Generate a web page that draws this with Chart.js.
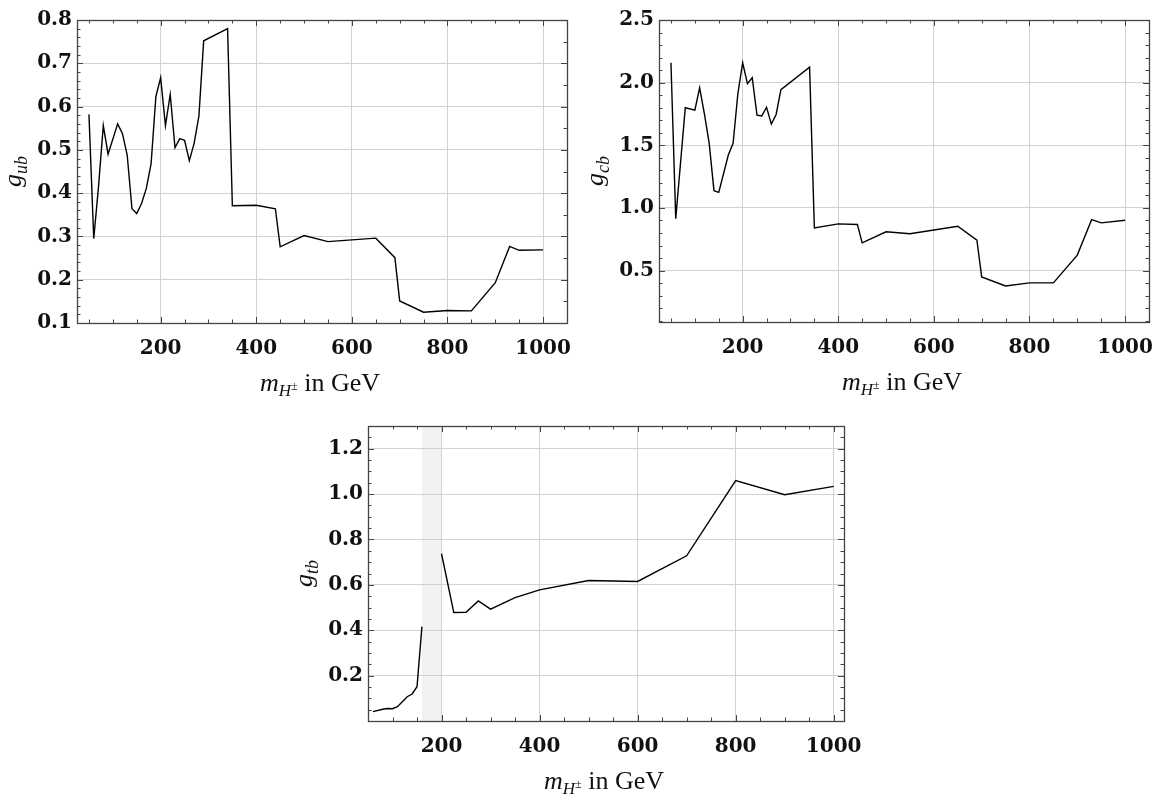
<!DOCTYPE html>
<html>
<head>
<meta charset="utf-8">
<script src="https://cdn.jsdelivr.net/npm/chart.js@4"></script>
<style>
  body { margin: 0; background: #fff; width: 1155px; height: 794px; position: relative; overflow: hidden; }
  canvas { position: absolute; }
</style>
</head>
<body>
<canvas id="ub" width="580" height="400" style="left:0px;top:0px"></canvas>
<canvas id="cb" width="575" height="400" style="left:580px;top:0px"></canvas>
<canvas id="tb" width="580" height="394" style="left:290px;top:400px"></canvas>
<script>
// charged Higgs mass (GeV) and couplings
let ubMass = [50, 60, 70, 80, 90, 110, 120, 130, 140, 150, 160, 170, 180, 190, 200, 210, 220, 230, 240, 250, 260, 270, 280, 290, 340, 350, 400, 440, 450, 500, 550, 650, 690, 700, 750, 800, 850, 900, 930, 950, 1000];
let ubVal = [0.582, 0.295, 0.415, 0.556, 0.49, 0.56, 0.538, 0.488, 0.364, 0.353, 0.376, 0.411, 0.468, 0.623, 0.667, 0.556, 0.628, 0.505, 0.526, 0.522, 0.475, 0.515, 0.578, 0.752, 0.78, 0.371, 0.372, 0.364, 0.276, 0.302, 0.288, 0.296, 0.251, 0.151, 0.125, 0.129, 0.128, 0.193, 0.277, 0.268, 0.269];

let cbMass = [50, 60, 80, 100, 110, 120, 130, 140, 150, 170, 180, 190, 200, 210, 220, 230, 240, 250, 260, 270, 280, 340, 350, 400, 440, 450, 500, 550, 650, 690, 700, 750, 800, 850, 900, 930, 950, 1000];
let cbVal = [2.159, 0.915, 1.8, 1.78, 1.958, 1.75, 1.516, 1.138, 1.124, 1.423, 1.516, 1.913, 2.159, 1.992, 2.04, 1.741, 1.735, 1.804, 1.669, 1.746, 1.944, 2.124, 0.841, 0.873, 0.868, 0.722, 0.81, 0.794, 0.854, 0.743, 0.45, 0.378, 0.402, 0.402, 0.624, 0.907, 0.881, 0.902];

// g_tb has a gap between 160 and 200 GeV (grey band)
let tbMassLow = [60, 80, 90, 100, 110, 120, 130, 140, 150, 160];
let tbLow = [0.041, 0.052, 0.055, 0.054, 0.063, 0.085, 0.107, 0.119, 0.151, 0.416];
let tbMassHigh = [200, 225, 250, 275, 300, 350, 400, 500, 600, 700, 800, 900, 1000];
let tbHigh = [0.737, 0.478, 0.479, 0.529, 0.493, 0.544, 0.578, 0.619, 0.615, 0.728, 1.059, 0.997, 1.034];
let tbBand = [160, 200];

let massTicks = [200, 400, 600, 800, 1000];
let ubTicks = [0.1, 0.2, 0.3, 0.4, 0.5, 0.6, 0.7, 0.8];
let cbTicks = [0.5, 1.0, 1.5, 2.0, 2.5];
let tbTicks = [0.2, 0.4, 0.6, 0.8, 1.0, 1.2];

const SERIF = '"Liberation Serif", "Times New Roman", serif';
const tickFont = { family: '"DejaVu Serif", serif', size: 20, weight: "bold" };
const gridColor = "#d2d2d2";

const massTitle = [
  { t: "m", it: true, size: 26 },
  { t: "H", it: true, size: 17, dy: 5 },
  { t: "±", size: 12, dy: -1 },
  { t: " in GeV", size: 26 },
];

function fontOf(s) {
  return (s.it ? "italic " : "") + s.size + "px " + SERIF;
}

function drawRich(ctx, segs, cx, cy, rotate) {
  ctx.save();
  ctx.translate(cx, cy);
  if (rotate) ctx.rotate(-Math.PI / 2);
  let w = 0;
  segs.forEach((s) => { ctx.font = fontOf(s); w += ctx.measureText(s.t).width; });
  let x = -w / 2;
  ctx.fillStyle = "#111";
  ctx.textBaseline = "alphabetic";
  segs.forEach((s) => {
    ctx.font = fontOf(s);
    ctx.fillText(s.t, x, s.dy || 0);
    x += ctx.measureText(s.t).width;
  });
  ctx.restore();
}

function steps(min, max, step) {
  let out = [];
  for (let i = Math.ceil(min / step - 1e-9); i * step <= max + 1e-9; i++) out.push(i * step);
  return out;
}

const isMajor = (list, v) => list.some((m) => Math.abs(m - v) < 1e-6);

// frame, inward tick marks, shaded band and the two axis titles
const frame = {
  id: "frame",
  beforeDraw(chart, args, o) {
    if (!o.band) return;
    const { ctx, chartArea: a, scales: { x } } = chart;
    const x0 = x.getPixelForValue(o.band[0]);
    const x1 = x.getPixelForValue(o.band[1]);
    ctx.save();
    ctx.fillStyle = "#f2f2f2";
    ctx.fillRect(x0, a.top, x1 - x0, a.bottom - a.top);
    ctx.restore();
  },
  afterDraw(chart, args, o) {
    const { ctx, chartArea: a, scales: { x, y } } = chart;
    ctx.save();
    ctx.strokeStyle = "#444";
    ctx.lineWidth = 1;
    ctx.beginPath();
    steps(x.min, x.max, o.xMinor).forEach((v) => {
      const px = Math.round(x.getPixelForValue(v)) + 0.5;
      const len = isMajor(o.xTicks, v) ? 6 : 3.5;
      ctx.moveTo(px, a.bottom); ctx.lineTo(px, a.bottom - len);
      ctx.moveTo(px, a.top); ctx.lineTo(px, a.top + len);
    });
    steps(y.min, y.max, o.yMinorL).forEach((v) => {
      const py = Math.round(y.getPixelForValue(v)) + 0.5;
      const len = isMajor(o.yTicks, v) ? 6 : 3.5;
      ctx.moveTo(a.left, py); ctx.lineTo(a.left + len, py);
    });
    steps(y.min, y.max, o.yMinorR).forEach((v) => {
      const py = Math.round(y.getPixelForValue(v)) + 0.5;
      const len = isMajor(o.yTicks, v) ? 6 : 3.5;
      ctx.moveTo(a.right, py); ctx.lineTo(a.right - len, py);
    });
    ctx.stroke();
    ctx.lineWidth = 1.3;
    ctx.strokeRect(Math.round(a.left) + 0.5, Math.round(a.top) + 0.5, Math.round(a.right - a.left), Math.round(a.bottom - a.top));
    ctx.restore();

    drawRich(ctx, massTitle, (a.left + a.right) / 2 - 2, a.bottom + 68, false);
    drawRich(ctx, o.yTitle, a.left - 56, (a.top + a.bottom) / 2, true);
  },
};

function makeChart(id, o) {
  return new Chart(document.getElementById(id), {
    type: "line",
    data: {
      datasets: o.series.map((s) => ({
        data: s.mass.map((m, i) => ({ x: m, y: s.val[i] })),
        borderColor: "#000",
        borderWidth: 1.4,
        pointRadius: 0,
        tension: 0,
        fill: false,
      })),
    },
    options: {
      responsive: false,
      animation: false,
      events: [],
      layout: { padding: o.pad },
      plugins: {
        legend: { display: false },
        tooltip: { enabled: false },
        frame: Object.assign({ xTicks: massTicks, yTicks: o.yTicks }, o.frame),
      },
      scales: {
        x: {
          type: "linear",
          min: o.xMin,
          max: o.xMax,
          grid: { color: gridColor, drawTicks: false },
          border: { display: false },
          ticks: { font: tickFont, color: "#111", padding: 14, callback: (v) => String(v) },
          afterBuildTicks: (s) => { s.ticks = massTicks.map((v) => ({ value: v })); },
          afterFit: (s) => { s.height = o.xH; s.paddingLeft = 0; s.paddingRight = 0; },
        },
        y: {
          min: o.yMin,
          max: o.yMax,
          grid: { color: gridColor, drawTicks: false },
          border: { display: false },
          ticks: { font: tickFont, color: "#111", padding: 5, callback: (v) => v.toFixed(1) },
          afterBuildTicks: (s) => { s.ticks = o.yTicks.map((v) => ({ value: v })); },
          afterFit: (s) => { s.width = o.yW; s.paddingTop = 0; s.paddingBottom = 0; },
        },
      },
    },
    plugins: [frame],
  });
}

makeChart("ub", {
  series: [{ mass: ubMass, val: ubVal }],
  xMin: 25, xMax: 1050, yMin: 0.1, yMax: 0.8,
  yTicks: ubTicks,
  pad: { top: 20, right: 13, left: 0, bottom: 0 },
  yW: 77, xH: 77,
  frame: { xMinor: 50, yMinorL: 0.02, yMinorR: 0.05, yTitle: [{ t: "g", it: true, size: 26 }, { t: "ub", it: true, size: 18, dy: 6 }] },
});

makeChart("cb", {
  series: [{ mass: cbMass, val: cbVal }],
  xMin: 25, xMax: 1050, yMin: 0.09, yMax: 2.5,
  yTicks: cbTicks,
  pad: { top: 20, right: 6, left: 0, bottom: 0 },
  yW: 79, xH: 78,
  frame: { xMinor: 50, yMinorL: 0.1, yMinorR: 0.1, yTitle: [{ t: "g", it: true, size: 26 }, { t: "cb", it: true, size: 18, dy: 6 }] },
});

makeChart("tb", {
  series: [{ mass: tbMassLow, val: tbLow }, { mass: tbMassHigh, val: tbHigh }],
  xMin: 50, xMax: 1021, yMin: 0.0, yMax: 1.3,
  yTicks: tbTicks,
  pad: { top: 26, right: 26, left: 0, bottom: 0 },
  yW: 78, xH: 73,
  frame: { xMinor: 50, yMinorL: 0.05, yMinorR: 0.05, band: tbBand, yTitle: [{ t: "g", it: true, size: 26 }, { t: "tb", it: true, size: 18, dy: 6 }] },
});
</script>
</body>
</html>
